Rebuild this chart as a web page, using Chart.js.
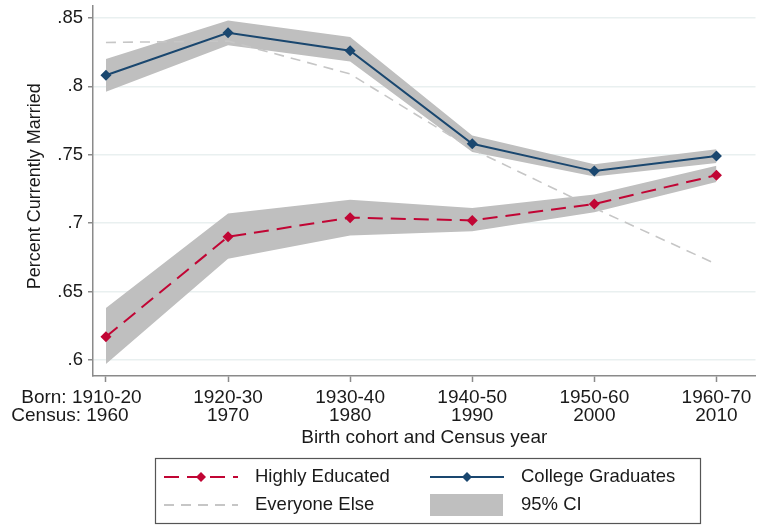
<!DOCTYPE html>
<html>
<head>
<meta charset="utf-8">
<script src="https://cdn.jsdelivr.net/npm/chart.js@4.4.1/dist/chart.umd.min.js"></script>
<style>
  html, body { margin: 0; padding: 0; background: #fff; }
  #wrap { position: relative; width: 761px; height: 527px; }
</style>
</head>
<body>
<div id="wrap"><canvas id="c" width="761" height="527"></canvas></div>
<script>
// Birth cohorts and the Census year in which each was observed
const cohortLabels = ['Born: 1910-20', '1920-30', '1930-40', '1940-50', '1950-60', '1960-70'];
const censusLabels = ['Census: 1960', '1970', '1980', '1990', '2000', '2010'];
const cohortIndex = [1, 2, 3, 4, 5, 6];

// Share currently married, by group
const collegeGrads   = [0.808, 0.839, 0.826, 0.758, 0.738, 0.749];
const collegeGradsHi = [0.820, 0.848, 0.836, 0.764, 0.743, 0.754];
const collegeGradsLo = [0.796, 0.830, 0.818, 0.752, 0.734, 0.744];

const highlyEducated   = [0.617, 0.690, 0.704, 0.702, 0.714, 0.735];
const highlyEducatedHi = [0.638, 0.707, 0.717, 0.711, 0.721, 0.742];
const highlyEducatedLo = [0.597, 0.674, 0.691, 0.694, 0.708, 0.730];

const everyoneElse = [0.832, 0.833, 0.809, 0.754, 0.711, 0.670];

const yTickValues = [0.6, 0.65, 0.7, 0.75, 0.8, 0.85];
const yTickLabels = ['.6', '.65', '.7', '.75', '.8', '.85'];

const NAVY = '#1a476f';
const CRANBERRY = '#c10534';
const LIGHTGRAY = '#c6c6c6';
const BAND = '#bfbfbf';
const TEXT = '#1a1a1a';
const AXIS = '#8a8a8a';
const FONT = '"Liberation Sans", Arial, Helvetica, sans-serif';

const pts = arr => arr.map((v, i) => ({ x: cohortIndex[i], y: v }));

function diamond(ctx, x, y, r, color) {
  ctx.save();
  ctx.fillStyle = color;
  ctx.beginPath();
  ctx.moveTo(x, y - r); ctx.lineTo(x + r, y); ctx.lineTo(x, y + r); ctx.lineTo(x - r, y);
  ctx.closePath(); ctx.fill();
  ctx.restore();
}

// Draws the two-line category labels, the axis titles and the boxed legend
const decorations = {
  id: 'decorations',
  afterDraw(chart) {
    const ctx = chart.ctx;
    const xs = chart.scales.x;
    const area = chart.chartArea;
    ctx.save();
    ctx.fillStyle = TEXT;
    ctx.font = '19px ' + FONT;
    ctx.textBaseline = 'middle';
    ctx.textAlign = 'center';
    const row1 = area.bottom + 21.5, row2 = area.bottom + 39.5;
    cohortIndex.forEach((c, i) => {
      const px = xs.getPixelForValue(c);
      // the first category carries the "Born:" / "Census:" prefixes and sits left of its tick
      const off1 = i === 0 ? -24.5 : 0;
      const off2 = i === 0 ? -36 : 0;
      ctx.fillText(cohortLabels[i], px + off1, row1);
      ctx.fillText(censusLabels[i], px + off2, row2);
    });
    ctx.fillText('Birth cohort and Census year', (area.left + area.right) / 2, area.bottom + 62);

    // y-axis title
    ctx.save();
    ctx.font = '18px ' + FONT;
    ctx.translate(35, (area.top + area.bottom) / 2 - 4.5);
    ctx.rotate(-Math.PI / 2);
    ctx.fillText('Percent Currently Married', 0, 0);
    ctx.restore();

    // legend
    ctx.font = '18.5px ' + FONT;
    const bx = 155, by = 458, bw = 545, bh = 65;
    ctx.strokeStyle = '#555';
    ctx.lineWidth = 1.2;
    ctx.strokeRect(bx + 0.5, by + 0.5, bw, bh);
    const r1 = by + 19, r2 = by + 47;
    const c1 = bx + 9, c2 = bx + 275, sw = 74;

    ctx.lineWidth = 2;
    ctx.strokeStyle = CRANBERRY;
    ctx.setLineDash([15, 8]);
    ctx.beginPath(); ctx.moveTo(c1, r1); ctx.lineTo(c1 + sw, r1); ctx.stroke();
    diamond(ctx, c1 + sw / 2, r1, 5, CRANBERRY);

    ctx.strokeStyle = LIGHTGRAY;
    ctx.setLineDash([10, 7]);
    ctx.beginPath(); ctx.moveTo(c1, r2); ctx.lineTo(c1 + sw, r2); ctx.stroke();

    ctx.setLineDash([]);
    ctx.strokeStyle = NAVY;
    ctx.beginPath(); ctx.moveTo(c2, r1); ctx.lineTo(c2 + sw, r1); ctx.stroke();
    diamond(ctx, c2 + sw / 2, r1, 5, NAVY);

    ctx.fillStyle = BAND;
    ctx.fillRect(c2, r2 - 11, sw - 1, 22);

    ctx.fillStyle = TEXT;
    ctx.textAlign = 'left';
    ctx.fillText('Highly Educated', c1 + sw + 17, r1);
    ctx.fillText('Everyone Else', c1 + sw + 17, r2);
    ctx.fillText('College Graduates', c2 + sw + 17, r1);
    ctx.fillText('95% CI', c2 + sw + 17, r2);
    ctx.restore();
  }
};

const lineBase = { pointStyle: 'rectRot', pointBorderWidth: 0, tension: 0, fill: false };

new Chart(document.getElementById('c'), {
  type: 'line',
  data: {
    datasets: [
      Object.assign({}, lineBase, {
        label: 'College Graduates', data: pts(collegeGrads),
        borderColor: NAVY, backgroundColor: NAVY, borderWidth: 2,
        pointRadius: 5.5, pointBackgroundColor: NAVY, pointBorderColor: NAVY
      }),
      Object.assign({}, lineBase, {
        label: 'Highly Educated', data: pts(highlyEducated),
        borderColor: CRANBERRY, backgroundColor: CRANBERRY, borderWidth: 2, borderDash: [15, 8],
        pointRadius: 5.5, pointBackgroundColor: CRANBERRY, pointBorderColor: CRANBERRY
      }),
      Object.assign({}, lineBase, {
        label: 'Everyone Else', data: pts(everyoneElse),
        borderColor: LIGHTGRAY, borderWidth: 1.6, borderDash: [10, 7], pointRadius: 0
      }),
      {
        label: 'College Graduates 95% CI (upper)', data: pts(collegeGradsHi),
        borderWidth: 0, pointRadius: 0, backgroundColor: BAND, fill: '+1', tension: 0
      },
      {
        label: 'College Graduates 95% CI (lower)', data: pts(collegeGradsLo),
        borderWidth: 0, pointRadius: 0, fill: false, tension: 0
      },
      {
        label: 'Highly Educated 95% CI (upper)', data: pts(highlyEducatedHi),
        borderWidth: 0, pointRadius: 0, backgroundColor: BAND, fill: '+1', tension: 0
      },
      {
        label: 'Highly Educated 95% CI (lower)', data: pts(highlyEducatedLo),
        borderWidth: 0, pointRadius: 0, fill: false, tension: 0
      }
    ]
  },
  options: {
    responsive: false,
    animation: false,
    devicePixelRatio: 1,
    layout: { padding: { left: 0, right: 1, top: 5, bottom: 77 } },
    plugins: { legend: { display: false }, tooltip: { enabled: false }, title: { display: false } },
    scales: {
      x: {
        type: 'linear',
        min: 0.894, max: 6.32,
        afterBuildTicks: s => { s.ticks = cohortIndex.map(v => ({ value: v })); },
        afterFit: s => { s.height = 74; s.paddingLeft = 0; s.paddingRight = 0; },
        ticks: { display: false },
        grid: { drawOnChartArea: false, drawTicks: true, tickLength: 6, tickColor: AXIS, tickWidth: 1.5 },
        border: { display: true, color: AXIS, width: 1.5 }
      },
      y: {
        min: 0.5883, max: 0.859,
        afterBuildTicks: s => { s.ticks = yTickValues.map(v => ({ value: v })); },
        afterFit: s => { s.width = 93; s.paddingTop = 0; s.paddingBottom = 0; },
        ticks: {
          color: TEXT, padding: 5,
          font: { family: FONT, size: 18.5 },
          callback: v => yTickLabels[yTickValues.findIndex(t => Math.abs(t - v) < 1e-9)]
        },
        grid: { color: '#e9f0f0', lineWidth: 1.5, tickColor: AXIS, tickLength: 5, tickWidth: 1.5 },
        border: { display: true, color: AXIS, width: 1.5 },
        title: { display: false }
      }
    }
  },
  plugins: [decorations]
});
</script>
</body>
</html>
